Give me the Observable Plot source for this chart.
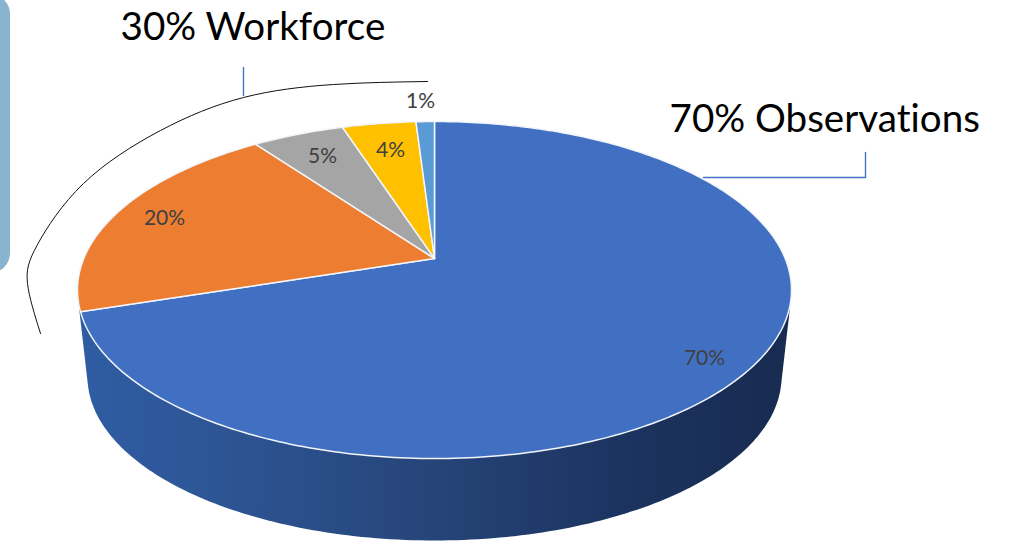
<!DOCTYPE html>
<html><head><meta charset="utf-8">
<script src="https://cdn.jsdelivr.net/npm/d3@7"></script>
<script src="https://cdn.jsdelivr.net/npm/@observablehq/plot@0.6"></script>
<style>html,body{margin:0;padding:0;background:#fff}svg{display:block}svg text{font-variant-ligatures:none}</style>
</head><body><div id="chart"></div>
<script>
const categories = ["Observations","Workforce A","Workforce B","Workforce C","Workforce D"];
const shares = [70,20,5,4,1];
const sliceColors = ["#4170c2","#ed7d31","#a5a5a5","#ffc000","#5b9bd5"];
const sliceLabels = ["70%","20%","5%","4%","1%"];
const labelX = [704,164,322,390,420];
const labelY = [358,218,156,150,101];
const arcX = [427,333,243,160,83,37,27,40];
const arcY = [81,84,97,130,183,244,283,333];
const headlines = ["30% Workforce","70% Observations"];
const headlineX = [120,669];
const headlineY = [27,119];

// perspective disc: angle (share of the turn, clockwise from 12 o'clock) to page position
const apex = [434,258], R = 350.7, A = 162.6, P = 0.187;
const disc = (t, s=1, dy=0) => {
  const a = t*2*Math.PI, w = 1+P*Math.cos(a);
  return [apex[0]+s*R*Math.sin(a)/w, apex[1]+dy-s*A*Math.cos(a)/w];
};
const turns = d3.range(0,361).map(i=>i/360);
const upperRim = turns.map(t=>disc(t));
const lowerRim = turns.map(t=>disc(t,0.972,87.6));
const hull = d3.polygonHull([...upperRim,...lowerRim]);
const side = [...hull,hull[0]].map(([x,y])=>({x,y}));

const total = d3.sum(shares);
let cum = 0;
const slices = shares.flatMap((v,i)=>{
  const a = cum/total, b = (cum+v)/total; cum += v;
  const n = Math.max(2,Math.ceil(v*4));
  const rim = d3.range(0,n+1).map(k=>disc(a+(b-a)*k/n));
  return [apex,...rim,apex].map(([x,y])=>({x,y,slice:categories[i]}));
});
const labels = categories.map((c,i)=>({x:labelX[i],y:labelY[i],t:sliceLabels[i]}));
const arc = arcX.map((x,i)=>({x,y:arcY[i]}));
const heads = headlines.map((t,i)=>({t,x:headlineX[i],y:headlineY[i]}));

const font = "Lato, Carlito, 'Open Sans', sans-serif";
const plot = Plot.plot({
  width:1010,height:541,margin:0,
  x:{axis:null,domain:[0,1010],range:[0,1010]},
  y:{axis:null,domain:[0,541],range:[0,541]},
  color:{domain:categories,range:sliceColors},
  marks:[
    Plot.rect([{x1:-30,x2:10,y1:-6,y2:273}],{x1:"x1",x2:"x2",y1:"y1",y2:"y2",fill:"#8ab3cf",rx:20}),
    Plot.line(side,{x:"x",y:"y",fill:"url(#sideShade)",stroke:"none"}),
    Plot.line(slices,{x:"x",y:"y",z:"slice",fill:"slice",stroke:"#f2f5fa",strokeWidth:1.5,strokeLinejoin:"round"}),
    Plot.line(arc,{x:"x",y:"y",curve:"natural",stroke:"#111",strokeWidth:1}),
    Plot.ruleX([243],{y1:67,y2:96,stroke:"#4472c4",strokeWidth:1.4}),
    Plot.line([[703,177],[865,177],[865,152]],{stroke:"#4472c4",strokeWidth:1.4}),
    Plot.text(labels,{x:"x",y:"y",text:"t",fill:"#404040",fontSize:21,fontFamily:font}),
    Plot.text(heads,{x:"x",y:"y",text:"t",textAnchor:"start",fill:"#000",fontSize:38.6,fontFamily:font})
  ]
});
const defs = d3.select(plot).insert("defs",":first-child");
const g = defs.append("linearGradient").attr("id","sideShade").attr("gradientUnits","userSpaceOnUse")
  .attr("x1",78).attr("x2",791).attr("y1",0).attr("y2",0);
[[0,"#2f5ca3"],[0.2,"#2d5594"],[0.5,"#264478"],[0.75,"#1c3461"],[1,"#182b50"]]
  .forEach(([o,c])=>g.append("stop").attr("offset",o).attr("stop-color",c));
document.getElementById("chart").append(plot);
</script></body></html>
